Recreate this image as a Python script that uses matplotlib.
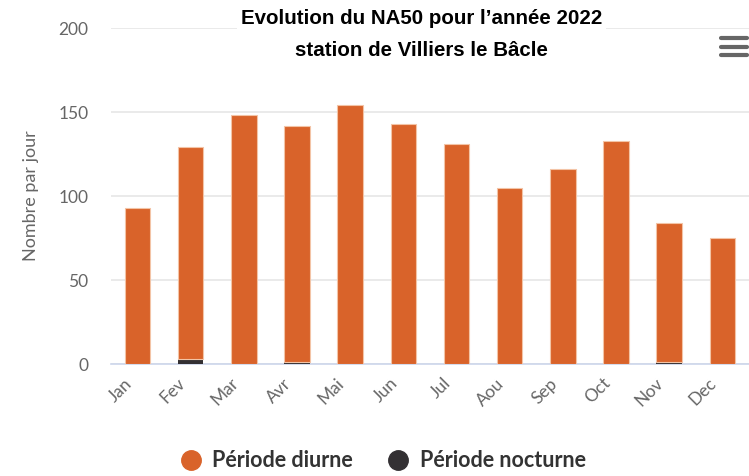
import matplotlib.pyplot as plt
from matplotlib.lines import Line2D
from matplotlib.transforms import ScaledTranslation
import numpy as np

# data
mois = ["Jan", "Fev", "Mar", "Avr", "Mai", "Jun", "Jul", "Aou", "Sep", "Oct", "Nov", "Dec"]
diurne = [93, 126, 148, 141, 154, 143, 131, 105, 116, 133, 83, 75]
nocturne = [0, 3, 0, 1, 0, 0, 0, 0, 0, 0, 1, 0]
yticks = [0, 50, 100, 150, 200]

orange = "#d9632a"
noir = "#333033"
gris = "#666666"

fig = plt.figure(figsize=(7.49, 4.76), dpi=100)
ax = fig.add_axes([0.148, 0.235, 0.852, 0.706])

x = np.arange(len(mois))
ax.bar(x, nocturne, width=0.48, color=noir, linewidth=0, zorder=3)
ax.bar(x, diurne, width=0.48, bottom=nocturne, color=orange, edgecolor="#f3c4a6",
       linewidth=0.8, zorder=3)

ax.set_xlim(-0.5, len(mois) - 0.5)
ax.set_ylim(0, 200)
ax.set_yticks(yticks)
ax.grid(axis="y", color="#e6e6e6", linewidth=1.2, zorder=0)
for s in ["top", "right", "left"]:
    ax.spines[s].set_visible(False)
ax.spines["bottom"].set_color("#ccd6eb")
ax.spines["bottom"].set_linewidth(1.2)
ax.tick_params(axis="y", length=0, pad=16, labelsize=12.5, labelcolor=gris)
ax.tick_params(axis="x", length=0, pad=10, labelsize=12.5, labelcolor=gris)
ax.set_xticks(x)
ax.set_xticklabels(mois, rotation=45, ha="right", va="center", rotation_mode="anchor")
decal = ScaledTranslation(-6 / 72, -2 / 72, fig.dpi_scale_trans)
for lab in ax.get_xticklabels():
    lab.set_transform(lab.get_transform() + decal)
for lab in ax.get_xticklabels() + ax.get_yticklabels():
    lab.set_family("Lato")
ax.set_ylabel("Nombre par jour", fontsize=13, color=gris, family="Lato", labelpad=14)

titre = ["Evolution du NA50 pour l\u2019année 2022", "station de Villiers le Bâcle"]
for yy, ligne in zip([0.962, 0.893], titre):
    fig.text(0.563, yy, ligne, ha="center", va="center", fontsize=14.8, fontweight="bold",
             color="black", family="Liberation Sans",
             bbox=dict(facecolor="white", edgecolor="none", pad=3), zorder=5)

# menu icon
for yy in [0.920, 0.902, 0.884]:
    fig.add_artist(Line2D([0.962, 0.997], [yy, yy], color=gris, linewidth=3,
                          solid_capstyle="round"))

handles = [Line2D([], [], marker="o", linestyle="none", markersize=14, color=orange),
           Line2D([], [], marker="o", linestyle="none", markersize=14, color=noir)]
fig.legend(handles, ["Période diurne", "Période nocturne"], loc="center",
           bbox_to_anchor=(0.507, 0.032), ncol=2, frameon=False, handletextpad=0.2,
           handlelength=1.6, columnspacing=1.3,
           prop={"family": "Lato", "size": 15.5, "weight": "bold"},
           labelcolor="#333333")

fig.savefig("out.png", dpi=100)
